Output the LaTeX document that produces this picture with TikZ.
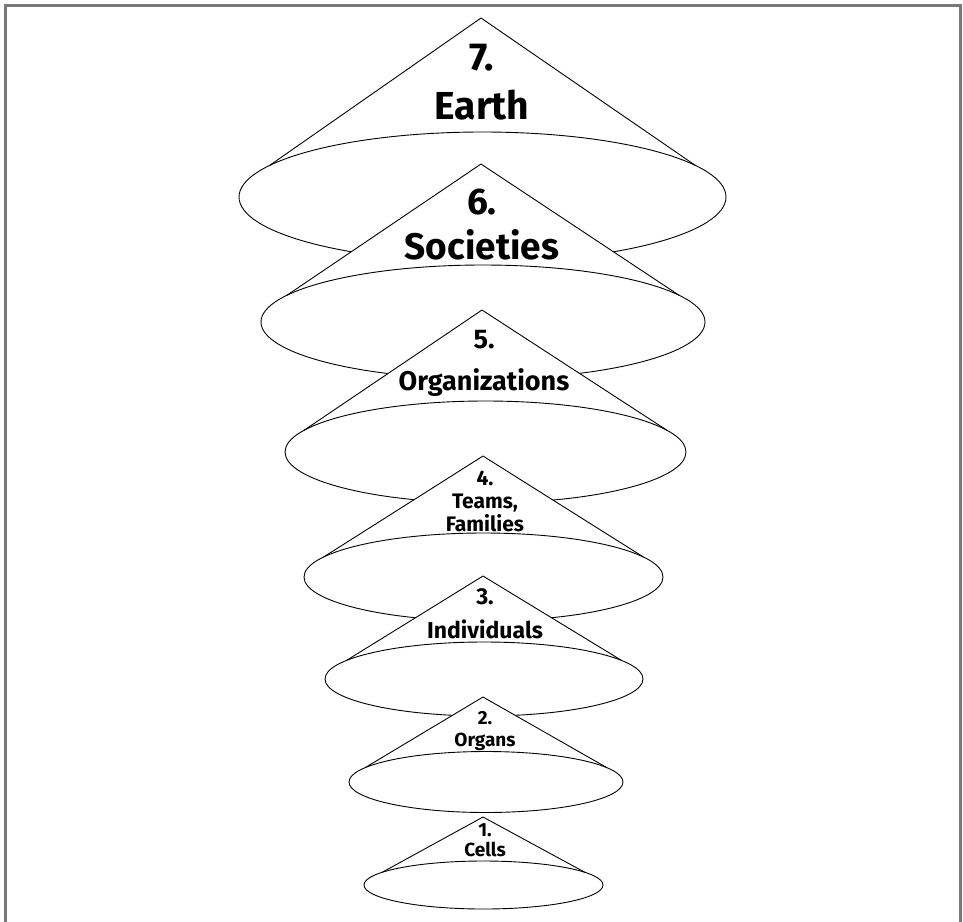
\documentclass[tikz,border=0pt]{standalone}
\usepackage{fontspec}
\setmainfont{Fira Sans}
\tikzset{
  coneline/.style={draw=black, line width=0.9pt, line join=round},
  conefill/.style={fill=white},
  lbl/.style={inner sep=0pt, align=center, font=\bfseries},
  framestyle/.style={draw={rgb,255:red,120;green,120;blue,120}, line width=3.6pt}
}
\newcommand{\mycone}[8]{%
  \coordinate (#1-c) at (#2,#3);
  \coordinate (#1-apex) at (#6,#7);
  \coordinate (#1-l) at ({#2+#4*cos(180-#8)},{#3-#5*sin(180-#8)});
  \coordinate (#1-r) at ({#2+#4*cos(#8)},{#3-#5*sin(#8)});
  \path[conefill] (#1-apex) -- (#1-l) -- (#1-r) -- cycle;
  \path[conefill] (#1-c) ellipse [x radius=#4, y radius=#5];
  \draw[coneline] (#1-c) ellipse [x radius=#4, y radius=#5];
  \draw[coneline] (#1-l) -- (#1-apex) -- (#1-r);
}
\begin{document}
\begin{tikzpicture}[x=1pt,y=-1pt]
\clip (0,0) rectangle (963,921);
\useasboundingbox (0,0) rectangle (963,921);
\fill[white] (0,0) rectangle (963,921);
\draw[framestyle] (5.5,5.5) rectangle (960.5,960);
% cones: name, cx, cy, rx, ry, apex x, apex y, angle
\mycone{k7}{482.5}{197}{243.5}{65}{481}{18}{29}
\node[lbl, font=\bfseries\fontsize{39}{49}\selectfont] (t7) at (482,82) {7.\\Earth};
\mycone{k6}{483}{322}{222}{57}{481}{164}{28}
\node[lbl, font=\bfseries\fontsize{37}{45}\selectfont] (t6) at (482,225) {6.\\Societies};
\mycone{k5}{485.5}{452}{200.5}{51}{482}{310}{25}
\node[lbl, font=\bfseries\fontsize{27}{42}\selectfont] (t5) at (484,363) {5.\\Organizations};
\mycone{k4}{483.5}{577}{179.5}{44}{483}{456}{27}
\node[lbl, font=\bfseries\fontsize{21}{23}\selectfont] (t4) at (485,501) {4.\\Teams,\\Families};
\mycone{k3}{484}{679}{159}{37}{483}{576}{30}
\node[lbl, font=\bfseries\fontsize{23}{34}\selectfont] (t3) at (485,614) {3.\\Individuals};
\mycone{k2}{486}{782}{137}{30.5}{483}{697}{28}
\node[lbl, font=\bfseries\fontsize{19}{22}\selectfont] (t2) at (485,731) {2.\\Organs};
\mycone{k1}{483.5}{885}{119.5}{24}{483}{817}{32}
\node[lbl, font=\bfseries\fontsize{19}{20}\selectfont] (t1) at (485,840) {1.\\Cells};
\end{tikzpicture}
\end{document}
